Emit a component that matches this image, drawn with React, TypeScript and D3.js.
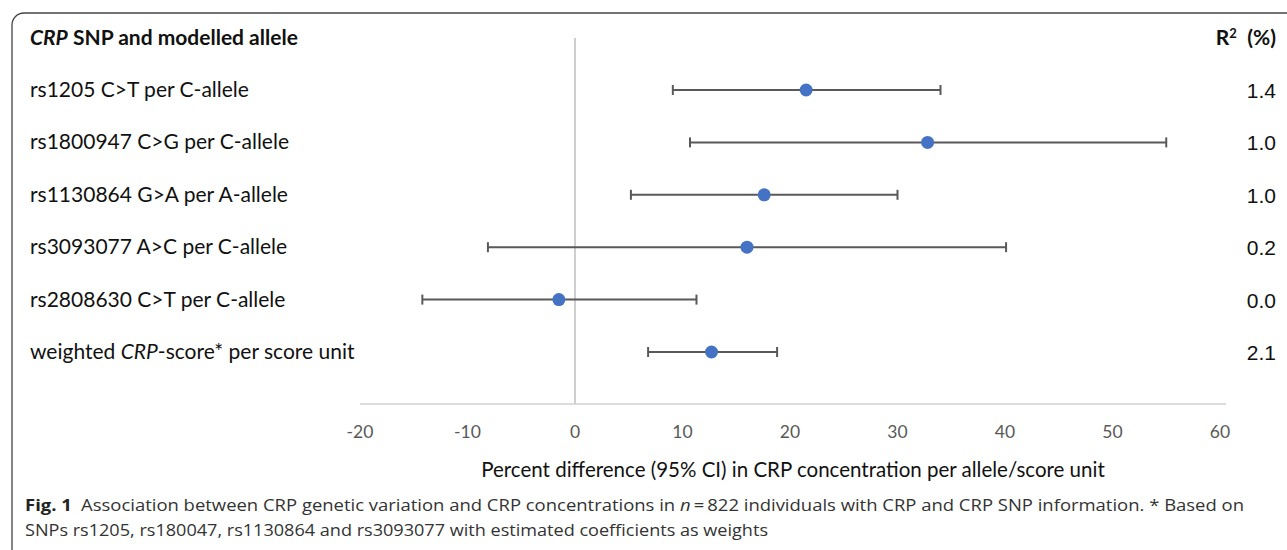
import React, { useEffect, useRef } from "react";
import * as d3 from "d3";

const labels = [
  "rs1205 C>T per C-allele",
  "rs1800947 C>G per C-allele",
  "rs1130864 G>A per A-allele",
  "rs3093077 A>C per C-allele",
  "rs2808630 C>T per C-allele",
  "weighted CRP-score* per score unit",
];
const estimates = [21.5, 32.8, 17.6, 16.0, -1.5, 12.7];
const lower = [9.1, 10.7, 5.2, -8.1, -14.2, 6.8];
const upper = [34.0, 55.0, 30.0, 40.1, 11.3, 18.8];
const r2 = ["1.4", "1.0", "1.0", "0.2", "0.0", "2.1"];
const xTicks = [-20, -10, 0, 10, 20, 30, 40, 50, 60];

const labelFont = "Lato, 'Open Sans', sans-serif";

export default function App() {
  const ref = useRef<SVGSVGElement>(null);

  useEffect(() => {
    const svg = d3.select(ref.current);
    svg.selectAll("*").remove();

    const width = 1287,
      height = 550;
    svg.attr("width", width).attr("height", height);

    // outer frame, only top-left visible
    svg
      .append("rect")
      .attr("x", 12)
      .attr("y", 13)
      .attr("width", 1400)
      .attr("height", 700)
      .attr("rx", 12)
      .attr("fill", "none")
      .attr("stroke", "#444")
      .attr("stroke-width", 1.3);

    const x = d3.scaleLinear().domain([-20, 60]).range([360, 1220]);
    const y = d3
      .scalePoint<number>()
      .domain(d3.range(labels.length))
      .range([90, 352]);

    // header
    const head = svg
      .append("text")
      .attr("x", 30)
      .attr("y", 45)
      .attr("font-family", labelFont)
      .attr("font-size", 21)
      .attr("font-weight", "bold")
      .attr("fill", "#111");
    head.append("tspan").attr("font-style", "italic").text("CRP");
    head.append("tspan").text(" SNP and modelled allele");

    const rh = svg
      .append("text")
      .attr("x", 1276)
      .attr("y", 45)
      .attr("text-anchor", "end")
      .attr("font-family", labelFont)
      .attr("font-size", 21)
      .attr("font-weight", "bold")
      .attr("fill", "#111");
    rh.append("tspan").text("R");
    rh.append("tspan").attr("font-size", 13).attr("dy", -7).text("2");
    rh.append("tspan").attr("dy", 7).text("\u2002(%)");

    // zero line
    svg
      .append("line")
      .attr("x1", x(0))
      .attr("x2", x(0))
      .attr("y1", 38)
      .attr("y2", 404)
      .attr("stroke", "#bfbfbf")
      .attr("stroke-width", 1.5);

    // axis
    svg
      .append("line")
      .attr("x1", x(-20))
      .attr("x2", 1226)
      .attr("y1", 404)
      .attr("y2", 404)
      .attr("stroke", "#d0d0d0")
      .attr("stroke-width", 1.5);

    svg
      .append("g")
      .selectAll("text")
      .data(xTicks)
      .enter()
      .append("text")
      .attr("x", (d) => x(d))
      .attr("y", 438)
      .attr("text-anchor", "middle")
      .attr("font-family", labelFont)
      .attr("font-size", 17.5)
      .attr("fill", "#595959")
      .text((d) => d);

    svg
      .append("text")
      .attr("x", 793)
      .attr("y", 477)
      .attr("text-anchor", "middle")
      .attr("font-family", labelFont)
      .attr("font-size", 20.5)
      .attr("fill", "#111")
      .text("Percent difference (95% CI) in CRP concentration per allele/score unit");

    // row labels
    const rows = svg
      .append("g")
      .selectAll("g")
      .data(labels)
      .enter()
      .append("g");

    rows.each(function (d, i) {
      const t = d3
        .select(this)
        .append("text")
        .attr("x", 30)
        .attr("y", (y(i) as number) + 7)
        .attr("font-family", labelFont)
        .attr("font-size", 21)
        .attr("fill", "#111");
      if (d.includes("CRP")) {
        const [a, b] = d.split("CRP");
        t.append("tspan").text(a);
        t.append("tspan").attr("font-style", "italic").text("CRP");
        t.append("tspan").text(b);
      } else {
        t.text(d);
      }
    });

    svg
      .append("g")
      .selectAll("text")
      .data(r2)
      .enter()
      .append("text")
      .attr("x", 1276)
      .attr("y", (d, i) => (y(i) as number) + 8)
      .attr("text-anchor", "end")
      .attr("font-family", "'Liberation Sans', Arial, sans-serif")
      .attr("font-size", 21)
      .attr("fill", "#111")
      .text((d) => d);

    // error bars
    const bars = svg.append("g").attr("stroke", "#595959").attr("stroke-width", 2);
    estimates.forEach((e, i) => {
      const yy = y(i) as number;
      bars
        .append("line")
        .attr("x1", x(lower[i]))
        .attr("x2", x(upper[i]))
        .attr("y1", yy)
        .attr("y2", yy);
      [lower[i], upper[i]].forEach((v) => {
        bars
          .append("line")
          .attr("x1", x(v))
          .attr("x2", x(v))
          .attr("y1", yy - 5)
          .attr("y2", yy + 5);
      });
    });

    svg
      .append("g")
      .selectAll("circle")
      .data(estimates)
      .enter()
      .append("circle")
      .attr("cx", (d) => x(d))
      .attr("cy", (d, i) => y(i) as number)
      .attr("r", 6.5)
      .attr("fill", "#4472c4");

    // caption
    const capFont = "'Open Sans', 'Noto Sans', sans-serif";
    const c1 = svg
      .append("text")
      .attr("x", 25)
      .attr("y", 511)
      .attr("font-family", capFont)
      .attr("font-size", 16)
      .attr("fill", "#333")
      .attr("textLength", 1219)
      .attr("lengthAdjust", "spacingAndGlyphs");
    c1.append("tspan").attr("font-weight", "bold").attr("fill", "#222").text("Fig. 1");
    c1.append("tspan").text("\u2002Association between CRP genetic variation and CRP concentrations in ");
    c1.append("tspan").attr("font-style", "italic").text("n");
    c1.append("tspan").text("\u2009=\u2009822 individuals with CRP and CRP SNP information. * Based on");

    svg
      .append("text")
      .attr("x", 25)
      .attr("y", 536)
      .attr("font-family", capFont)
      .attr("font-size", 16)
      .attr("fill", "#333")
      .attr("textLength", 743)
      .attr("lengthAdjust", "spacingAndGlyphs")
      .text("SNPs rs1205, rs180047, rs1130864 and rs3093077 with estimated coefficients as weights");
  }, []);

  return (
    <div style={{ position: "absolute", left: 0, top: 0 }}>
      <svg ref={ref}></svg>
    </div>
  );
}
